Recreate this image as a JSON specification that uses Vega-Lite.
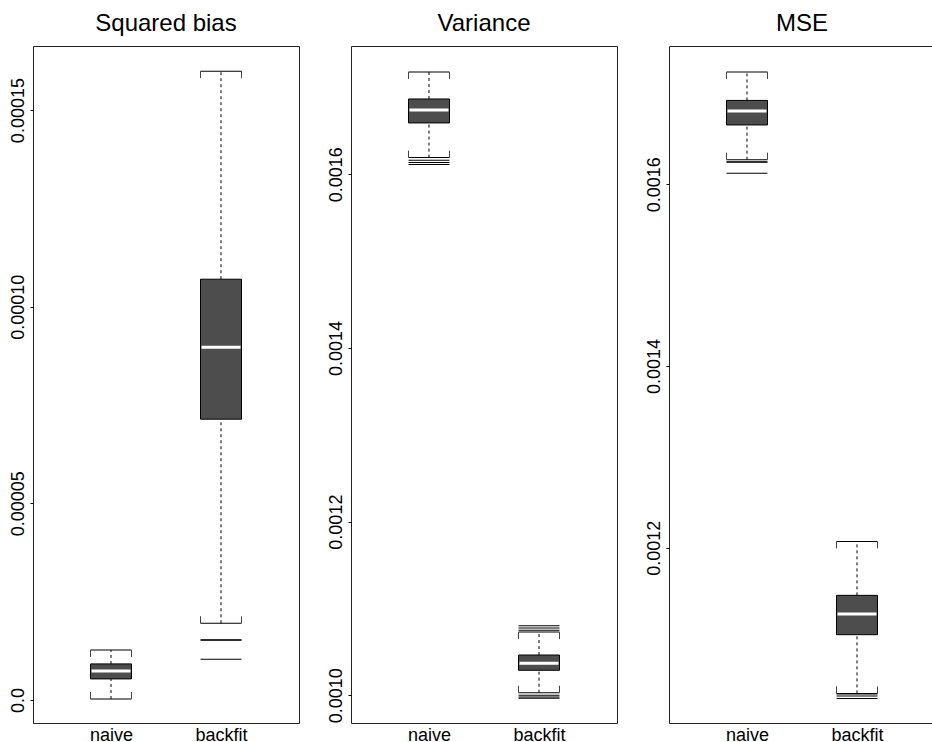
{
  "$schema": "https://vega.github.io/schema/vega-lite/v6.json",
  "padding": {"left": 8, "top": 11, "right": 0, "bottom": 0},
  "background": "white",
  "datasets": {
    "d": [
      {"panel": "Squared bias", "group": "naive", "kind": "box", "lo": 0.00000025, "q1": 0.00000535, "med": 0.00000739, "q3": 0.00000917, "hi": 0.0000127},
      {"panel": "Squared bias", "group": "backfit", "kind": "box", "lo": 0.0000195, "q1": 0.0000714, "med": 0.0000897, "q3": 0.000107, "hi": 0.0001599},
      {"panel": "Squared bias", "group": "backfit", "kind": "out", "out": 0.0000153},
      {"panel": "Squared bias", "group": "backfit", "kind": "out", "out": 0.0000152},
      {"panel": "Squared bias", "group": "backfit", "kind": "out", "out": 0.00001036},
      {"panel": "Variance", "group": "naive", "kind": "box", "lo": 0.0016192, "q1": 0.0016591, "med": 0.0016741, "q3": 0.0016867, "hi": 0.0017178},
      {"panel": "Variance", "group": "naive", "kind": "out", "out": 0.0016161},
      {"panel": "Variance", "group": "naive", "kind": "out", "out": 0.0016135},
      {"panel": "Variance", "group": "naive", "kind": "out", "out": 0.0016112},
      {"panel": "Variance", "group": "backfit", "kind": "box", "lo": 0.001003, "q1": 0.0010288, "med": 0.0010368, "q3": 0.0010464, "hi": 0.0010728},
      {"panel": "Variance", "group": "backfit", "kind": "out", "out": 0.00108},
      {"panel": "Variance", "group": "backfit", "kind": "out", "out": 0.0010774},
      {"panel": "Variance", "group": "backfit", "kind": "out", "out": 0.0010748},
      {"panel": "Variance", "group": "backfit", "kind": "out", "out": 0.001},
      {"panel": "Variance", "group": "backfit", "kind": "out", "out": 0.000998},
      {"panel": "Variance", "group": "backfit", "kind": "out", "out": 0.0009965},
      {"panel": "MSE", "group": "naive", "kind": "box", "lo": 0.0016271, "q1": 0.0016653, "med": 0.0016807, "q3": 0.0016923, "hi": 0.0017236},
      {"panel": "MSE", "group": "naive", "kind": "out", "out": 0.0016249},
      {"panel": "MSE", "group": "naive", "kind": "out", "out": 0.0016243},
      {"panel": "MSE", "group": "naive", "kind": "out", "out": 0.001612},
      {"panel": "MSE", "group": "backfit", "kind": "box", "lo": 0.0010396, "q1": 0.0011042, "med": 0.001127, "q3": 0.0011475, "hi": 0.0012069},
      {"panel": "MSE", "group": "backfit", "kind": "out", "out": 0.001039},
      {"panel": "MSE", "group": "backfit", "kind": "out", "out": 0.0010368},
      {"panel": "MSE", "group": "backfit", "kind": "out", "out": 0.0010341}
    ]
  },
  "config": {
    "font": "Liberation Sans",
    "view": {"stroke": "#222", "strokeWidth": 1},
    "axis": {"domain": false, "grid": false, "labelFont": "Liberation Sans", "labelFontSize": 18, "labelColor": "black", "tickColor": "black"},
    "axisX": {"ticks": false, "labelPadding": 3, "labelAngle": 0},
    "axisY": {"tickSize": 3, "labelAngle": 270, "labelAlign": "center", "labelBaseline": "bottom", "labelPadding": 3},
    "title": {"fontSize": 24, "font": "Liberation Sans", "fontWeight": "normal", "color": "black", "anchor": "middle", "offset": 10}
  },
  "bounds": "flush",
  "spacing": 52,
  "resolve": {"scale": {"y": "independent"}},
  "hconcat": [
    {
      "width": 266, "height": 677,
      "title": "Squared bias",
      "data": {"name": "d"},
      "transform": [{"filter": "datum.panel === 'Squared bias'"}],
      "encoding": {"x": {"field": "group", "type": "nominal", "title": null, "sort": ["naive", "backfit"], "scale": {"type": "point", "padding": 0.709}}},
      "layer": [
        {"transform": [{"filter": "datum.kind === 'box'"}], "mark": {"type": "rule", "color": "black", "strokeDash": [3, 3]},
         "encoding": {"y": {"field": "q3", "type": "quantitative", "title": null, "scale": {"domain": [-0.00000586, 0.0001663], "nice": false, "zero": false}, "axis": {"values": [0, 0.00005, 0.0001, 0.00015], "labelExpr": "datum.value == 0 ? '0.0' : format(datum.value, '.5f')"}}, "y2": {"field": "hi"}}},
        {"transform": [{"filter": "datum.kind === 'box'"}], "mark": {"type": "rule", "color": "black", "strokeDash": [3, 3]},
         "encoding": {"y": {"field": "lo", "type": "quantitative", "title": null, "scale": {"domain": [-0.00000586, 0.0001663], "nice": false, "zero": false}}, "y2": {"field": "q1"}}},
        {"transform": [{"filter": "datum.kind === 'box'"}], "mark": {"type": "bar", "width": 41, "fill": "#4d4d4d", "stroke": "black", "strokeWidth": 1},
         "encoding": {"y": {"field": "q1", "type": "quantitative", "title": null, "scale": {"domain": [-0.00000586, 0.0001663], "nice": false, "zero": false}}, "y2": {"field": "q3"}}},
        {"transform": [{"filter": "datum.kind === 'box'"}], "mark": {"type": "tick", "color": "white", "size": 39, "thickness": 3, "opacity": 1},
         "encoding": {"y": {"field": "med", "type": "quantitative", "title": null, "scale": {"domain": [-0.00000586, 0.0001663], "nice": false, "zero": false}}}},
        {"transform": [{"filter": "datum.kind === 'box'"}], "mark": {"type": "tick", "color": "black", "size": 41, "thickness": 1, "opacity": 1},
         "encoding": {"y": {"field": "hi", "type": "quantitative", "title": null, "scale": {"domain": [-0.00000586, 0.0001663], "nice": false, "zero": false}}}},
        {"transform": [{"filter": "datum.kind === 'box'"}], "mark": {"type": "tick", "color": "black", "size": 41, "thickness": 1, "opacity": 1},
         "encoding": {"y": {"field": "lo", "type": "quantitative", "title": null, "scale": {"domain": [-0.00000586, 0.0001663], "nice": false, "zero": false}}}},
        {"transform": [{"filter": "datum.kind === 'box'"}], "mark": {"type": "rule", "color": "#444", "xOffset": -20.5, "y2Offset": 7},
         "encoding": {"y": {"field": "hi", "type": "quantitative", "title": null, "scale": {"domain": [-0.00000586, 0.0001663], "nice": false, "zero": false}}, "y2": {"field": "hi"}}},
        {"transform": [{"filter": "datum.kind === 'box'"}], "mark": {"type": "rule", "color": "#444", "xOffset": 20.5, "y2Offset": 7},
         "encoding": {"y": {"field": "hi", "type": "quantitative", "title": null, "scale": {"domain": [-0.00000586, 0.0001663], "nice": false, "zero": false}}, "y2": {"field": "hi"}}},
        {"transform": [{"filter": "datum.kind === 'box'"}], "mark": {"type": "rule", "color": "#444", "xOffset": -20.5, "y2Offset": -7},
         "encoding": {"y": {"field": "lo", "type": "quantitative", "title": null, "scale": {"domain": [-0.00000586, 0.0001663], "nice": false, "zero": false}}, "y2": {"field": "lo"}}},
        {"transform": [{"filter": "datum.kind === 'box'"}], "mark": {"type": "rule", "color": "#444", "xOffset": 20.5, "y2Offset": -7},
         "encoding": {"y": {"field": "lo", "type": "quantitative", "title": null, "scale": {"domain": [-0.00000586, 0.0001663], "nice": false, "zero": false}}, "y2": {"field": "lo"}}},
        {"transform": [{"filter": "datum.kind === 'out'"}], "mark": {"type": "tick", "color": "black", "size": 41, "thickness": 1, "opacity": 1},
         "encoding": {"y": {"field": "out", "type": "quantitative", "title": null, "scale": {"domain": [-0.00000586, 0.0001663], "nice": false, "zero": false}}}}
      ]
    },
    {
      "width": 266, "height": 677,
      "title": "Variance",
      "data": {"name": "d"},
      "transform": [{"filter": "datum.panel === 'Variance'"}],
      "encoding": {"x": {"field": "group", "type": "nominal", "title": null, "sort": ["naive", "backfit"], "scale": {"type": "point", "padding": 0.709}}},
      "layer": [
        {"transform": [{"filter": "datum.kind === 'box'"}], "mark": {"type": "rule", "color": "black", "strokeDash": [3, 3]},
         "encoding": {"y": {"field": "q3", "type": "quantitative", "title": null, "scale": {"domain": [0.0009681, 0.0017477], "nice": false, "zero": false}, "axis": {"values": [0.001, 0.0012, 0.0014, 0.0016], "labelExpr": "format(datum.value, '.4f')"}}, "y2": {"field": "hi"}}},
        {"transform": [{"filter": "datum.kind === 'box'"}], "mark": {"type": "rule", "color": "black", "strokeDash": [3, 3]},
         "encoding": {"y": {"field": "lo", "type": "quantitative", "title": null, "scale": {"domain": [0.0009681, 0.0017477], "nice": false, "zero": false}}, "y2": {"field": "q1"}}},
        {"transform": [{"filter": "datum.kind === 'box'"}], "mark": {"type": "bar", "width": 41, "fill": "#4d4d4d", "stroke": "black", "strokeWidth": 1},
         "encoding": {"y": {"field": "q1", "type": "quantitative", "title": null, "scale": {"domain": [0.0009681, 0.0017477], "nice": false, "zero": false}}, "y2": {"field": "q3"}}},
        {"transform": [{"filter": "datum.kind === 'box'"}], "mark": {"type": "tick", "color": "white", "size": 39, "thickness": 3, "opacity": 1},
         "encoding": {"y": {"field": "med", "type": "quantitative", "title": null, "scale": {"domain": [0.0009681, 0.0017477], "nice": false, "zero": false}}}},
        {"transform": [{"filter": "datum.kind === 'box'"}], "mark": {"type": "tick", "color": "black", "size": 41, "thickness": 1, "opacity": 1},
         "encoding": {"y": {"field": "hi", "type": "quantitative", "title": null, "scale": {"domain": [0.0009681, 0.0017477], "nice": false, "zero": false}}}},
        {"transform": [{"filter": "datum.kind === 'box'"}], "mark": {"type": "tick", "color": "black", "size": 41, "thickness": 1, "opacity": 1},
         "encoding": {"y": {"field": "lo", "type": "quantitative", "title": null, "scale": {"domain": [0.0009681, 0.0017477], "nice": false, "zero": false}}}},
        {"transform": [{"filter": "datum.kind === 'box'"}], "mark": {"type": "rule", "color": "#444", "xOffset": -20.5, "y2Offset": 7},
         "encoding": {"y": {"field": "hi", "type": "quantitative", "title": null, "scale": {"domain": [0.0009681, 0.0017477], "nice": false, "zero": false}}, "y2": {"field": "hi"}}},
        {"transform": [{"filter": "datum.kind === 'box'"}], "mark": {"type": "rule", "color": "#444", "xOffset": 20.5, "y2Offset": 7},
         "encoding": {"y": {"field": "hi", "type": "quantitative", "title": null, "scale": {"domain": [0.0009681, 0.0017477], "nice": false, "zero": false}}, "y2": {"field": "hi"}}},
        {"transform": [{"filter": "datum.kind === 'box'"}], "mark": {"type": "rule", "color": "#444", "xOffset": -20.5, "y2Offset": -7},
         "encoding": {"y": {"field": "lo", "type": "quantitative", "title": null, "scale": {"domain": [0.0009681, 0.0017477], "nice": false, "zero": false}}, "y2": {"field": "lo"}}},
        {"transform": [{"filter": "datum.kind === 'box'"}], "mark": {"type": "rule", "color": "#444", "xOffset": 20.5, "y2Offset": -7},
         "encoding": {"y": {"field": "lo", "type": "quantitative", "title": null, "scale": {"domain": [0.0009681, 0.0017477], "nice": false, "zero": false}}, "y2": {"field": "lo"}}},
        {"transform": [{"filter": "datum.kind === 'out'"}], "mark": {"type": "tick", "color": "black", "size": 41, "thickness": 1, "opacity": 1},
         "encoding": {"y": {"field": "out", "type": "quantitative", "title": null, "scale": {"domain": [0.0009681, 0.0017477], "nice": false, "zero": false}}}}
      ]
    },
    {
      "width": 266, "height": 677,
      "title": "MSE",
      "data": {"name": "d"},
      "transform": [{"filter": "datum.panel === 'MSE'"}],
      "encoding": {"x": {"field": "group", "type": "nominal", "title": null, "sort": ["naive", "backfit"], "scale": {"type": "point", "padding": 0.709}}},
      "layer": [
        {"transform": [{"filter": "datum.kind === 'box'"}], "mark": {"type": "rule", "color": "black", "strokeDash": [3, 3]},
         "encoding": {"y": {"field": "q3", "type": "quantitative", "title": null, "scale": {"domain": [0.001007, 0.0017522], "nice": false, "zero": false}, "axis": {"values": [0.0012, 0.0014, 0.0016], "labelExpr": "format(datum.value, '.4f')"}}, "y2": {"field": "hi"}}},
        {"transform": [{"filter": "datum.kind === 'box'"}], "mark": {"type": "rule", "color": "black", "strokeDash": [3, 3]},
         "encoding": {"y": {"field": "lo", "type": "quantitative", "title": null, "scale": {"domain": [0.001007, 0.0017522], "nice": false, "zero": false}}, "y2": {"field": "q1"}}},
        {"transform": [{"filter": "datum.kind === 'box'"}], "mark": {"type": "bar", "width": 41, "fill": "#4d4d4d", "stroke": "black", "strokeWidth": 1},
         "encoding": {"y": {"field": "q1", "type": "quantitative", "title": null, "scale": {"domain": [0.001007, 0.0017522], "nice": false, "zero": false}}, "y2": {"field": "q3"}}},
        {"transform": [{"filter": "datum.kind === 'box'"}], "mark": {"type": "tick", "color": "white", "size": 39, "thickness": 3, "opacity": 1},
         "encoding": {"y": {"field": "med", "type": "quantitative", "title": null, "scale": {"domain": [0.001007, 0.0017522], "nice": false, "zero": false}}}},
        {"transform": [{"filter": "datum.kind === 'box'"}], "mark": {"type": "tick", "color": "black", "size": 41, "thickness": 1, "opacity": 1},
         "encoding": {"y": {"field": "hi", "type": "quantitative", "title": null, "scale": {"domain": [0.001007, 0.0017522], "nice": false, "zero": false}}}},
        {"transform": [{"filter": "datum.kind === 'box'"}], "mark": {"type": "tick", "color": "black", "size": 41, "thickness": 1, "opacity": 1},
         "encoding": {"y": {"field": "lo", "type": "quantitative", "title": null, "scale": {"domain": [0.001007, 0.0017522], "nice": false, "zero": false}}}},
        {"transform": [{"filter": "datum.kind === 'box'"}], "mark": {"type": "rule", "color": "#444", "xOffset": -20.5, "y2Offset": 7},
         "encoding": {"y": {"field": "hi", "type": "quantitative", "title": null, "scale": {"domain": [0.001007, 0.0017522], "nice": false, "zero": false}}, "y2": {"field": "hi"}}},
        {"transform": [{"filter": "datum.kind === 'box'"}], "mark": {"type": "rule", "color": "#444", "xOffset": 20.5, "y2Offset": 7},
         "encoding": {"y": {"field": "hi", "type": "quantitative", "title": null, "scale": {"domain": [0.001007, 0.0017522], "nice": false, "zero": false}}, "y2": {"field": "hi"}}},
        {"transform": [{"filter": "datum.kind === 'box'"}], "mark": {"type": "rule", "color": "#444", "xOffset": -20.5, "y2Offset": -7},
         "encoding": {"y": {"field": "lo", "type": "quantitative", "title": null, "scale": {"domain": [0.001007, 0.0017522], "nice": false, "zero": false}}, "y2": {"field": "lo"}}},
        {"transform": [{"filter": "datum.kind === 'box'"}], "mark": {"type": "rule", "color": "#444", "xOffset": 20.5, "y2Offset": -7},
         "encoding": {"y": {"field": "lo", "type": "quantitative", "title": null, "scale": {"domain": [0.001007, 0.0017522], "nice": false, "zero": false}}, "y2": {"field": "lo"}}},
        {"transform": [{"filter": "datum.kind === 'out'"}], "mark": {"type": "tick", "color": "black", "size": 41, "thickness": 1, "opacity": 1},
         "encoding": {"y": {"field": "out", "type": "quantitative", "title": null, "scale": {"domain": [0.001007, 0.0017522], "nice": false, "zero": false}}}}
      ]
    }
  ]
}
